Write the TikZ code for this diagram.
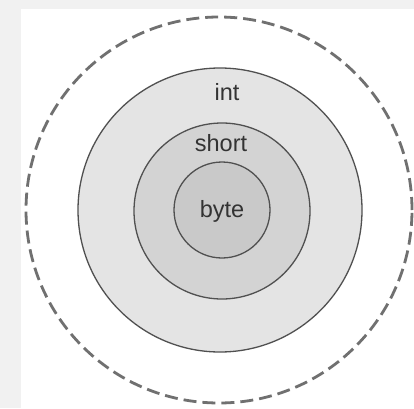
\documentclass[tikz,border=0pt]{standalone}
\usepackage{fontspec}
\setmainfont{Liberation Sans}
\definecolor{bgstrip}{HTML}{F1F1F1}
\definecolor{intfill}{HTML}{E4E4E4}
\definecolor{shortfill}{HTML}{D3D3D3}
\definecolor{bytefill}{HTML}{C9C9C9}
\definecolor{edge}{HTML}{505050}
\definecolor{dashcol}{HTML}{707070}
\definecolor{txt}{HTML}{333333}
\tikzset{
  ring/.style={circle, draw=edge, line width=1.3pt, inner sep=0pt},
  outerring/.style={circle, draw=dashcol, line width=2.8pt, dash pattern=on 13pt off 6pt, inner sep=0pt},
  lbl/.style={text=txt, font=\fontsize{23.5}{26}\selectfont, inner sep=0pt}
}
\begin{document}
\begin{tikzpicture}[x=1pt,y=1pt]
\useasboundingbox (0,0) rectangle (414,408);
\fill[bgstrip] (0,0) rectangle (414,408);
\fill[white] (21,0) rectangle (414,399);
\node[outerring, minimum size=386pt] (outer) at (219,198) {};
\node[ring, fill=intfill, minimum size=284pt] (int) at (220,198) {};
\node[ring, fill=shortfill, minimum size=176pt] (short) at (222,197) {};
\node[ring, fill=bytefill, minimum size=96pt] (byte) at (222,198) {};
\node[lbl] (intlbl) at (227,316) {int};
\node[lbl] (shortlbl) at (221,265) {short};
\node[lbl] (bytelbl) at (222,197) {byte};
\end{tikzpicture}
\end{document}
